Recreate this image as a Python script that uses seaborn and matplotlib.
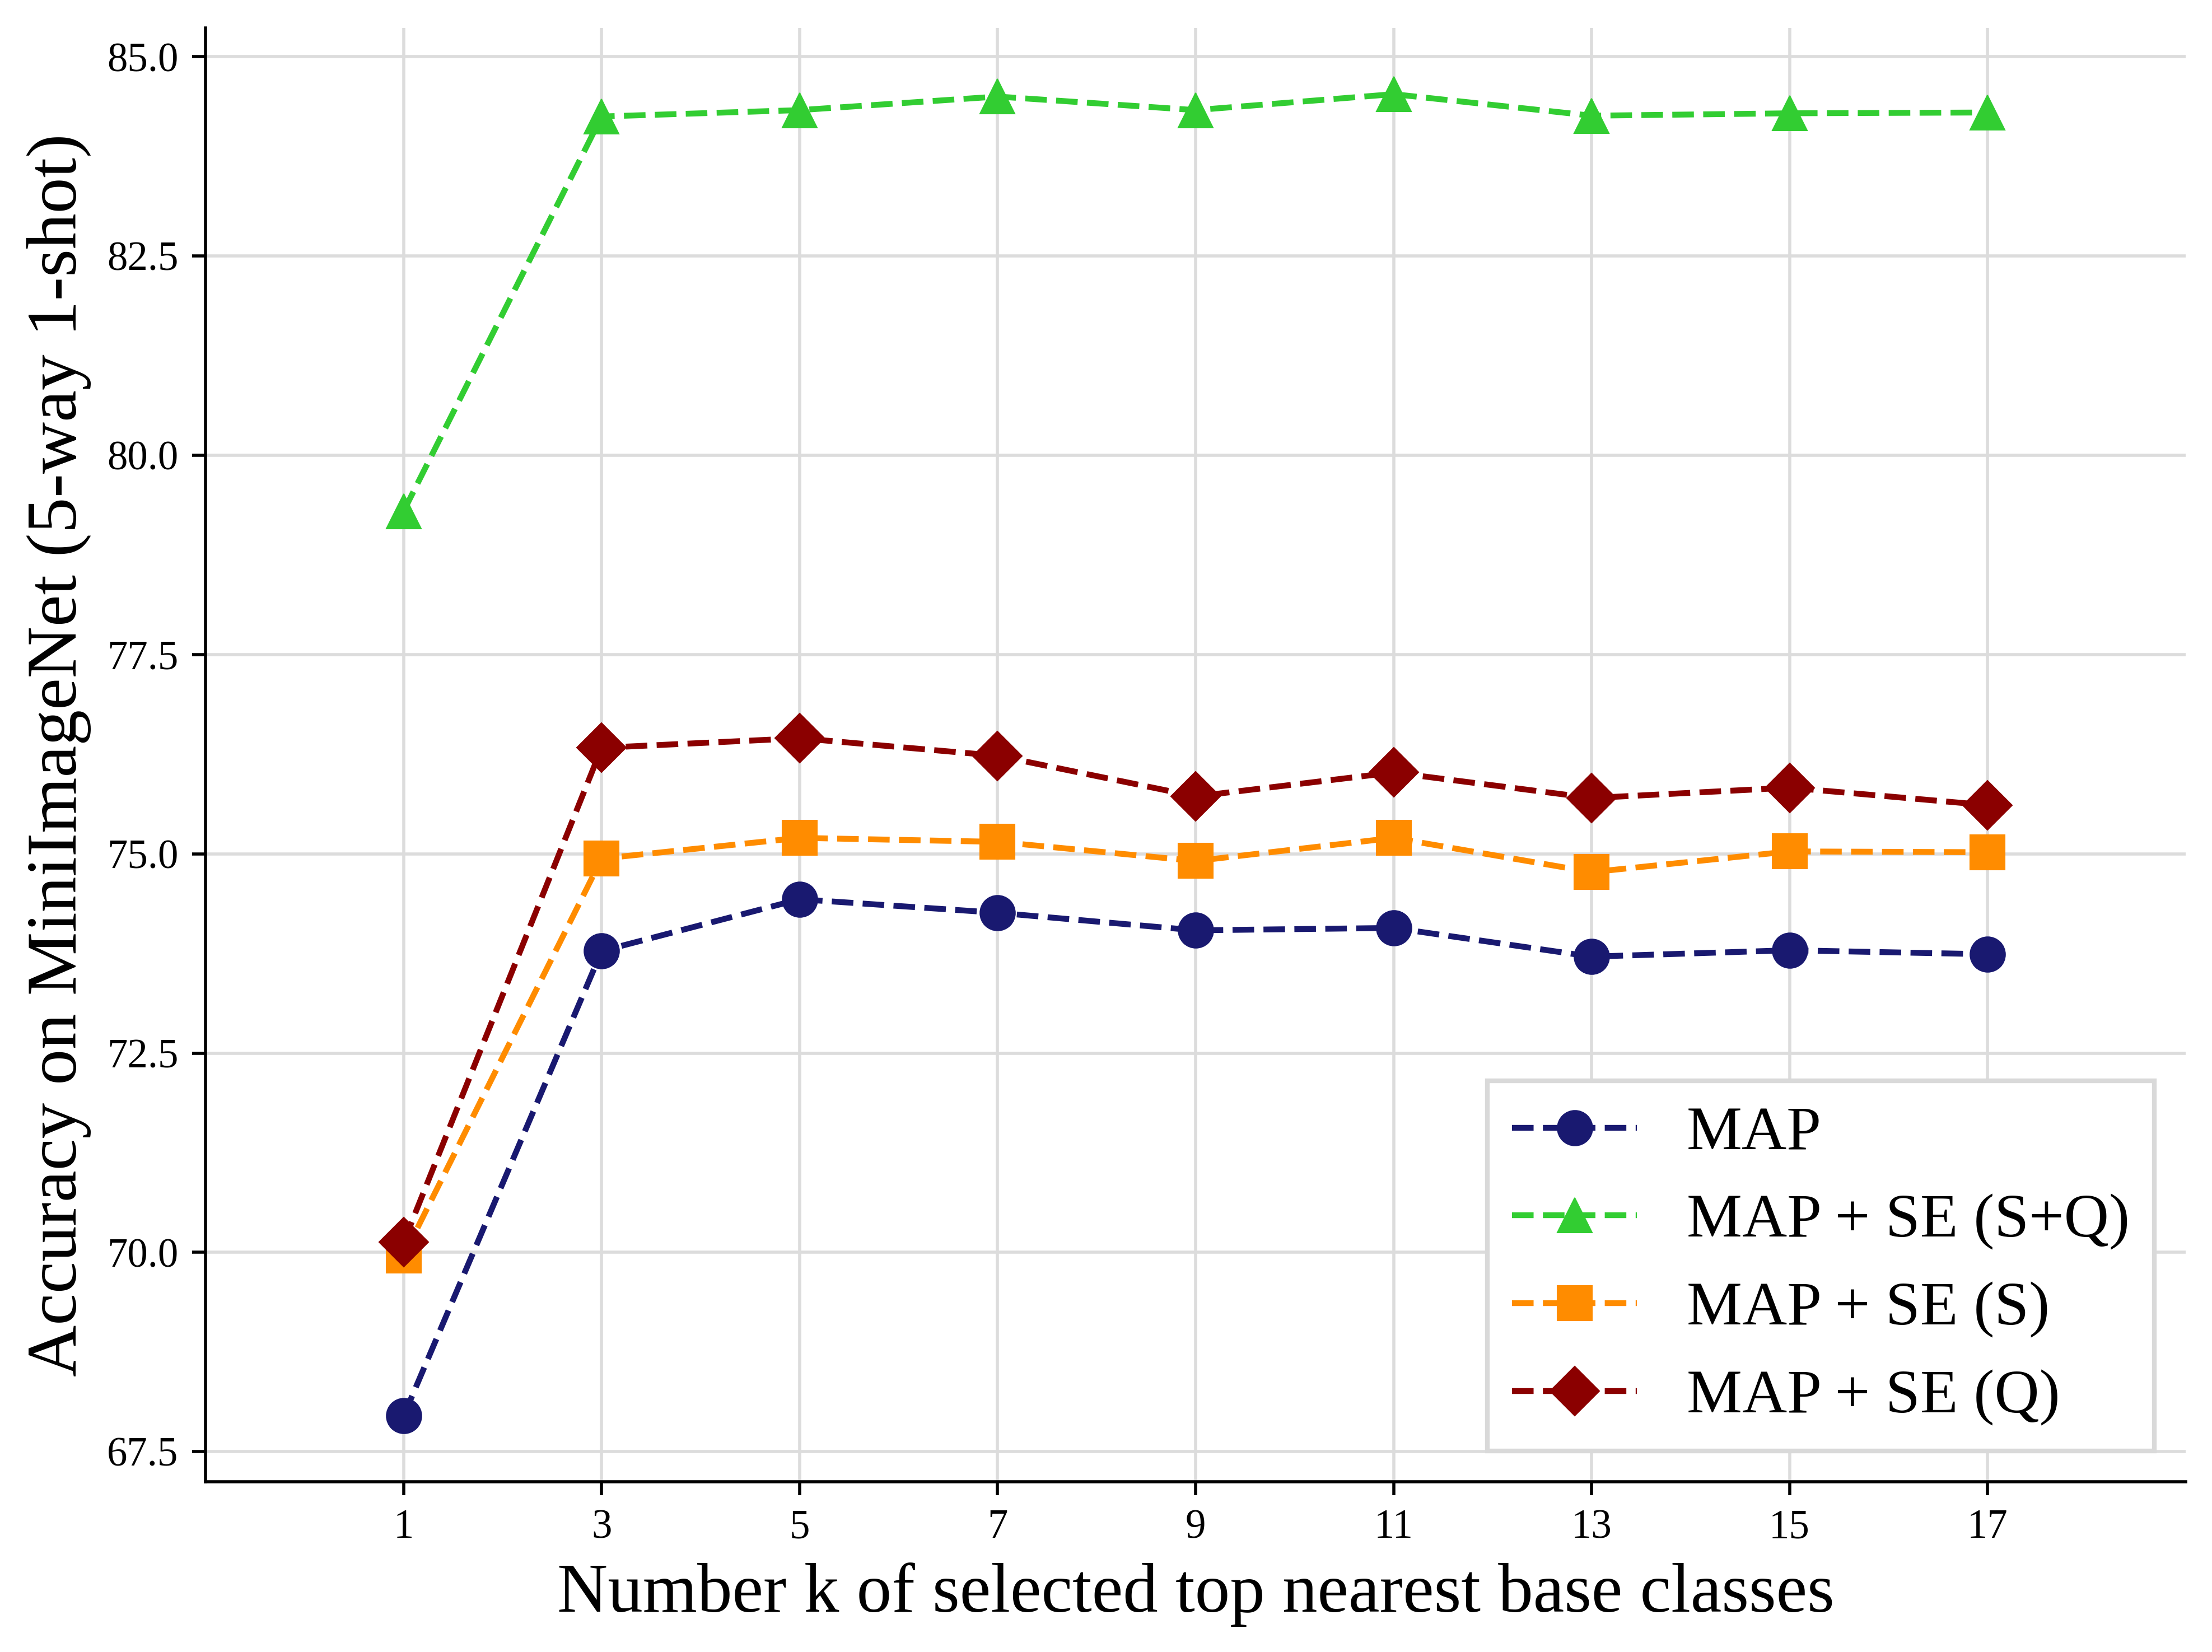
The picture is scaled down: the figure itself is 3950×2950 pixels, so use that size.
import numpy as np
import pandas as pd
import matplotlib
matplotlib.use("Agg")
import matplotlib.pyplot as plt
import seaborn as sns

# values
k_values = [1, 3, 5, 7, 9, 11, 13, 15, 17]
acc_map = [67.95, 73.78, 74.43, 74.26, 74.04, 74.07, 73.71, 73.79, 73.74]
acc_se_sq = [79.30, 84.25, 84.33, 84.50, 84.33, 84.53, 84.26, 84.29, 84.30]
acc_se_s = [69.96, 74.94, 75.20, 75.15, 74.91, 75.20, 74.77, 75.03, 75.02]
acc_se_q = [70.13, 76.33, 76.45, 76.23, 75.72, 76.02, 75.70, 75.83, 75.61]

labels = ["MAP", "MAP + SE (S+Q)", "MAP + SE (S)", "MAP + SE (Q)"]
colors = ["#191970", "#32CD32", "#FF8C00", "#8B0000"]
markers = ["o", "^", "s", "D"]

df = pd.DataFrame({
    "k": k_values * 4,
    "acc": acc_map + acc_se_sq + acc_se_s + acc_se_q,
    "method": np.repeat(labels, len(k_values)),
})

sns.set_style("ticks")
plt.rcParams["font.family"] = ["Liberation Serif", "DejaVu Serif"]
plt.rcParams["text.color"] = "black"
plt.rcParams["axes.labelcolor"] = "black"
plt.rcParams["xtick.color"] = "black"
plt.rcParams["ytick.color"] = "black"

fig, ax = plt.subplots(figsize=(7.9, 5.9), dpi=500)

for lab, col, mk in zip(labels, colors, markers):
    sub = df[df["method"] == lab]
    sns.lineplot(data=sub, x="k", y="acc", ax=ax, color=col, marker=mk,
                 linestyle="--", linewidth=1.5, markersize=9,
                 markeredgecolor=col, markeredgewidth=0.3, label=lab)

ax.grid(True, color="#dcdcdc", linewidth=0.8)
ax.set_axisbelow(True)
ax.set_xlim(-1, 19)
ax.set_xticks(k_values)
ax.set_yticks(np.arange(67.5, 85.1, 2.5))
ax.tick_params(labelsize=10.5, length=3.5, width=0.8, color="black")
for s in ["left", "bottom"]:
    ax.spines[s].set_color("black")
    ax.spines[s].set_linewidth(0.8)
sns.despine(ax=ax)

ax.set_xlabel("Number k of selected top nearest base classes", fontsize=18.0)
ax.set_ylabel("Accuracy on MiniImageNet (5-way 1-shot)", fontsize=18.4)

leg = ax.legend(loc="lower right", fontsize=16, fancybox=False,
                edgecolor="#d9d9d9", framealpha=1, labelspacing=0.5)
leg.get_frame().set_linewidth(1.2)

plt.subplots_adjust(left=0.093, right=0.988, top=0.983, bottom=0.103)
plt.savefig("out.png", dpi=500)
